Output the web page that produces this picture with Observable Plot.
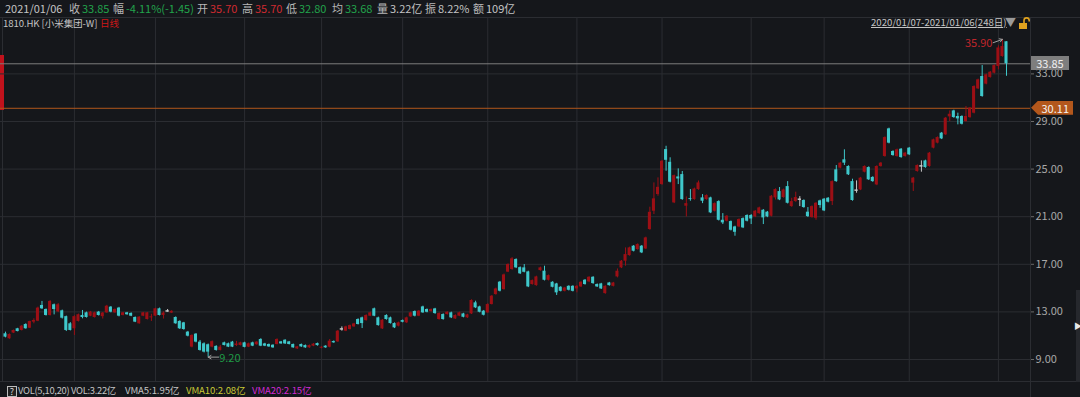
<!DOCTYPE html>
<html><head><meta charset="utf-8">
<script src="https://cdn.jsdelivr.net/npm/d3@7"></script>
<script src="https://cdn.jsdelivr.net/npm/@observablehq/plot@0.6"></script>
<style>
html,body{margin:0;padding:0;background:#15171b;width:1080px;height:397px;overflow:hidden;font-family:"Noto Sans CJK SC","Noto Sans",sans-serif;}
#wrap{position:relative;width:1080px;height:397px;}
#wrap svg{position:absolute;left:0;top:0;}
.abs{position:absolute;white-space:nowrap;line-height:1;}
.ln{position:absolute;background:#2b2d32;}
</style></head><body><div id="wrap"></div>
<script>
// ---- data ----
const open = [
11.16,10.74,11.22,11.58,11.44,11.94,11.63,12.14,12.22,13.54,
13.20,12.70,13.60,13.00,13.09,12.60,12.00,11.58,12.20,12.70,
12.92,12.64,12.53,12.98,12.60,12.92,13.40,12.92,13.32,12.70,
12.92,12.87,12.53,12.00,12.64,12.36,12.50,12.64,13.26,12.70,
13.08,12.90,12.53,12.20,12.08,11.30,10.04,11.13,10.46,10.32,
10.24,10.04,10.10,9.76,10.40,10.32,10.46,10.18,10.18,10.40,
10.04,10.40,10.24,10.68,10.31,10.26,10.20,10.26,10.48,10.62,
10.48,10.26,9.89,10.26,10.17,9.98,10.12,10.34,9.95,10.12,
10.03,10.51,10.48,11.57,11.38,11.52,11.74,12.36,12.50,12.27,
12.64,13.26,12.50,11.57,12.70,12.50,12.02,11.80,12.27,12.08,
12.58,13.03,12.64,13.42,13.20,13.03,13.25,12.36,12.78,12.78,
12.92,12.41,12.64,12.83,12.50,12.83,13.76,13.42,13.06,12.92,
13.62,14.46,15.50,14.88,16.34,16.56,17.40,16.72,16.70,16.36,
15.30,15.21,16.47,16.42,15.66,15.49,15.35,15.07,14.73,15.15,
15.15,14.93,15.10,15.66,15.52,15.91,15.30,15.35,14.54,15.43,
15.15,15.94,16.70,17.26,17.73,18.52,18.24,18.52,18.29,19.92,
21.46,22.86,23.70,26.64,25.57,22.16,24.34,24.54,21.88,22.52,
22.44,23.28,22.58,22.44,22.58,21.46,22.27,20.70,20.62,20.59,
20.14,20.14,20.84,21.10,21.10,20.98,21.26,21.54,21.38,21.04,
22.58,23.11,22.61,23.53,21.85,22.27,22.47,22.36,21.38,20.93,
20.87,22.33,22.47,22.55,22.27,24.94,25.08,25.78,25.22,23.95,
23.23,23.25,24.74,25.13,24.30,23.67,25.22,26.06,28.38,26.48,
26.06,26.67,26.06,26.76,23.82,24.80,25.27,25.69,25.22,26.76,
27.18,28.02,27.88,29.39,29.89,29.42,29.42,29.00,29.33,29.70,
31.74,32.78,32.14,32.70,33.06,33.62,34.46,35.70];
const high = [
11.30,11.15,11.48,11.62,11.85,12.00,12.22,12.42,13.40,13.88,
13.25,13.95,13.66,13.70,13.15,12.65,12.10,12.68,12.82,13.12,
12.98,13.04,12.98,13.04,12.95,13.55,13.45,13.25,13.38,12.96,
12.96,12.92,12.58,12.60,12.96,12.96,12.80,13.30,13.32,13.00,
13.20,13.10,12.58,12.25,12.12,11.36,11.08,11.18,10.60,10.40,
10.30,10.56,10.16,10.18,10.46,10.38,10.52,10.52,10.45,10.45,
10.38,10.46,10.50,10.75,10.36,10.30,10.24,10.74,10.52,10.66,
10.52,10.30,10.10,10.30,10.22,10.22,10.34,10.38,10.08,10.16,
10.68,10.56,11.44,11.74,11.80,11.90,12.04,12.42,12.56,12.76,
12.98,13.32,12.56,12.36,12.76,12.56,12.08,12.14,12.32,12.56,
12.98,13.08,13.12,13.48,13.25,13.25,13.30,12.92,12.84,13.02,
12.98,12.76,12.98,12.88,12.80,14.02,13.90,13.48,13.12,13.68,
14.38,15.00,15.56,16.18,17.04,17.56,17.46,16.78,16.98,16.42,
15.68,16.00,16.76,16.84,16.10,15.54,15.40,15.12,15.06,15.20,
15.20,15.21,15.54,15.72,15.96,15.96,15.35,15.40,15.20,15.48,
15.48,16.61,17.32,18.38,18.44,18.58,18.72,18.58,19.28,21.80,
23.84,24.26,25.72,26.92,25.95,24.50,25.02,24.80,22.66,23.28,
23.40,24.00,22.86,22.84,22.64,22.16,22.34,21.26,21.10,20.64,
20.20,20.82,20.90,21.16,21.18,21.52,21.80,21.60,21.44,22.78,
23.34,23.45,23.32,23.95,22.55,23.06,22.69,22.42,21.77,21.91,
22.19,22.39,22.53,22.61,24.01,25.30,25.56,26.62,25.28,24.15,
24.01,24.30,25.28,25.19,24.36,25.28,25.56,27.71,28.44,26.54,
26.68,26.73,26.40,26.82,24.30,25.36,25.69,25.75,26.40,27.52,
27.71,28.08,29.34,29.89,29.95,29.70,29.48,30.26,30.18,32.00,
32.56,33.70,32.98,33.20,33.76,35.36,35.90,35.70];
const low = [
10.82,10.70,11.18,11.32,11.40,11.55,11.60,12.00,12.18,13.20,
12.65,12.65,12.75,12.95,12.40,11.35,11.40,11.02,12.15,12.42,
12.48,12.60,12.48,12.65,12.40,12.88,12.92,12.88,12.58,12.66,
12.72,12.60,12.10,11.96,12.60,12.32,12.20,12.60,12.66,12.40,
12.98,12.86,11.96,11.52,11.46,10.90,9.98,10.40,9.70,9.55,
9.20,9.98,9.70,9.72,10.14,10.00,10.00,10.10,10.14,9.98,
10.00,10.08,10.20,10.08,10.08,10.02,9.94,10.22,10.28,10.26,
10.22,9.94,9.84,10.02,9.94,9.94,10.08,10.12,9.90,9.94,
9.98,10.36,10.44,11.38,11.34,11.48,11.70,11.90,11.60,12.22,
12.60,12.60,11.80,11.52,12.30,11.98,11.60,11.74,12.08,12.02,
12.54,12.58,12.60,12.88,12.92,12.98,12.80,12.30,12.30,12.72,
12.44,12.36,12.60,12.50,12.45,12.78,13.28,12.92,12.66,12.88,
13.58,14.40,14.68,14.82,16.30,16.50,16.64,16.14,16.28,15.04,
15.25,15.15,16.42,15.60,15.60,15.02,14.38,14.68,14.68,14.76,
14.68,14.60,15.05,15.25,15.46,15.32,15.05,14.88,14.48,15.16,
15.10,15.86,16.64,16.84,17.68,18.04,18.18,17.90,18.24,19.86,
21.18,22.72,23.64,24.82,23.84,22.10,23.70,22.38,20.98,22.30,
22.38,23.22,22.10,22.38,21.26,21.40,20.64,20.34,20.56,19.80,
19.36,20.08,20.00,20.56,20.34,20.92,21.20,20.34,20.92,20.98,
22.40,22.35,22.55,22.07,21.79,22.21,21.85,21.71,20.93,20.87,
20.70,21.71,21.43,22.16,21.94,23.89,25.02,25.30,24.46,22.30,
22.97,23.19,24.68,24.04,23.89,23.61,25.16,26.00,27.12,26.08,
26.00,25.91,26.00,26.14,23.12,24.74,24.74,25.07,25.16,26.70,
27.12,27.48,27.82,29.00,29.27,28.72,28.71,28.94,29.27,29.64,
31.68,31.04,32.08,32.64,33.00,33.34,34.40,32.80];
const close = [
10.88,11.10,11.44,11.35,11.80,11.58,12.19,12.28,13.32,13.26,
12.70,13.88,13.20,13.60,12.47,11.44,11.44,12.60,12.76,12.53,
12.53,12.98,12.92,12.70,12.90,13.48,12.98,13.20,12.64,12.92,
12.76,12.64,12.14,12.56,12.92,12.92,12.58,13.26,12.70,12.90,
13.08,13.05,12.00,11.58,11.52,10.96,11.02,10.46,9.76,9.62,
9.62,10.50,9.76,10.04,10.18,10.04,10.04,10.30,10.40,10.02,
10.32,10.12,10.46,10.12,10.12,10.06,9.98,10.68,10.31,10.31,
10.26,9.98,10.06,10.06,9.98,10.17,10.29,10.17,10.03,9.98,
10.54,10.40,11.38,11.57,11.74,11.85,11.99,11.94,12.02,12.70,
12.92,12.64,11.85,12.30,12.36,12.02,11.66,12.08,12.13,12.50,
12.92,12.64,13.06,12.92,12.97,13.20,12.86,12.86,12.36,12.97,
12.50,12.70,12.92,12.55,12.75,13.96,13.34,12.97,12.72,13.62,
14.32,14.93,14.74,16.11,16.98,17.46,16.70,16.20,16.33,15.10,
15.63,15.94,16.70,15.66,16.05,15.07,14.60,14.73,15.01,14.82,
14.73,15.15,15.49,15.30,15.91,15.38,15.10,14.93,15.15,15.21,
15.43,16.42,17.26,17.82,18.38,18.10,18.66,17.96,19.22,21.37,
22.50,23.47,25.66,25.74,23.90,24.45,24.17,22.44,22.10,22.44,
23.33,23.84,22.30,22.78,21.32,22.10,20.70,20.48,21.04,19.86,
19.69,20.76,20.06,20.62,20.81,21.46,21.74,20.90,20.98,22.72,
23.28,22.41,23.25,22.13,22.27,22.61,22.47,21.77,21.01,21.85,
22.13,21.94,21.49,22.22,23.95,23.95,25.50,25.50,24.52,22.36,
23.23,24.24,25.22,24.10,23.95,25.22,25.50,27.65,27.18,26.14,
26.62,25.97,26.34,26.20,24.24,25.30,25.27,25.13,26.34,27.46,
27.65,27.54,29.28,29.61,29.33,29.22,28.77,29.42,30.12,31.94,
32.50,31.10,32.92,33.14,33.70,35.18,35.30,33.85];
const yTicks = [9, 13, 17, 21, 25, 29, 33];
const monthStartIdx = [17, 37, 59, 78, 98, 119, 141, 162, 184, 202, 223, 245];
const lastPrice = 33.85;
const refPrice = 30.11;
const maxMark = {i: 246, v: 35.90};
const minMark = {i: 50, v: 9.20};
const headDate = "2021/01/06";
const headLabels = ["收","幅","开","高","低","均","量","振","额"];
const headValues = ["33.85","-4.11%(-1.45)","35.70","35.70","32.80","33.68","3.22亿","8.22%","109亿"];
const headTone = ["dn","dn","up","up","dn","dn","n","n","n"];
const symbolText = "1810.HK [小米集团-W]";
const periodText = "日线";
const rangeText = "2020/01/07-2021/01/06(248日)";
const volTexts = ["VOL(5,10,20) VOL:3.22亿","VMA5:1.95亿","VMA10:2.08亿","VMA20:2.15亿"];

// ---- chart ----
const UP = "#9c0f15", DN = "#3fc8cb", EQ = "#c8c8c8";
const candles = open.map((o, i) => ({i, open: o, high: high[i], low: low[i], close: close[i], dir: Math.sign(+(close[i] - o).toFixed(4))}));
const col = d => d.dir > 0 ? UP : d.dir < 0 ? DN : EQ;
const FONT = '"Noto Sans CJK SC","Noto Sans",sans-serif';

const chart = Plot.plot({
  width: 1080, height: 397,
  marginTop: 17, marginBottom: 16, marginLeft: 0, marginRight: 50,
  style: {background: "transparent", fontFamily: FONT, fontSize: "11px", color: "#a8a8a8", overflow: "visible"},
  x: {domain: [0, 247], range: [5, 1006], axis: null},
  y: {domain: [9, 33], range: [359, 73.4], axis: null},
  color: {type: "identity"},
  marks: [
    Plot.ruleY(yTicks, {stroke: "#2b2d32"}),
    Plot.ruleX(monthStartIdx, {stroke: "#2b2d32"}),
    Plot.ruleY([lastPrice], {stroke: "#7c7c7c"}),
    Plot.ruleY([refPrice], {stroke: "#b1561c"}),
    Plot.ruleX(candles, {x: "i", y1: "low", y2: "high", stroke: col, strokeWidth: 1}),
    Plot.rect(candles.filter(d => d.dir !== 0), {x1: d => d.i - 0.5, x2: d => d.i + 0.5, y1: "open", y2: "close", insetLeft: 0.5, insetRight: 0.5, fill: col}),
    Plot.ruleY(candles.filter(d => d.dir === 0), {x1: d => d.i - 0.4, x2: d => d.i + 0.4, y: "open", stroke: EQ, strokeWidth: 1.5}),
    Plot.axisY(yTicks, {anchor: "right", tickSize: 3, tickPadding: 2, tickFormat: d => d.toFixed(2), stroke: "#6a6a6a", fill: "#a8a8a8", fontSize: 11, label: null}),
    Plot.text([maxMark], {x: "i", y: "v", text: d => d.v.toFixed(2), textAnchor: "end", dx: -10, dy: 4, fill: "#c0262c", fontSize: 11}),
    Plot.arrow([maxMark], {x1: d => d.i - 2.3, y1: d => d.v - 0.28, x2: "i", y2: "v", stroke: "#a0a0a0", strokeWidth: 1, headLength: 5, insetEnd: 0}),
    Plot.text([minMark], {x: "i", y: "v", text: d => d.v.toFixed(2), textAnchor: "start", dx: 11, dy: 1, fill: "#1f9a46", fontSize: 11}),
    Plot.arrow([minMark], {x1: d => d.i + 2.6, y1: "v", x2: "i", y2: "v", stroke: "#a0a0a0", strokeWidth: 1, headLength: 5, insetEnd: 0})
  ]
});
const wrap = document.getElementById("wrap");

function line(l, t, w, h, c) {
  const d = document.createElement("div"); d.className = "ln";
  Object.assign(d.style, {left: l + "px", top: t + "px", width: w + "px", height: h + "px"});
  if (c) d.style.background = c;
  wrap.appendChild(d); return d;
}
line(0, 17, 1080, 1);
line(0, 381, 1080, 1);
line(2, 17, 1, 364);
line(1030, 17, 1, 380);
line(1076, 290, 4, 92, "#26282d");
line(0, 55, 4, 55, "#c0121c");
wrap.appendChild(chart);

function txt(s, l, t, c, size, extra) {
  const d = document.createElement("div"); d.className = "abs";
  d.textContent = s;
  Object.assign(d.style, {left: l + "px", top: t + "px", color: c, fontSize: (size || 11) + "px"}, extra || {});
  wrap.appendChild(d); return d;
}
const GREEN = "#22a34b", RED = "#cf2a30", GREY = "#c4c4c4", LAB = "#b8b8b8";
txt(headDate, 5, 3, GREY, 11);
const headLeft = [69, 113, 197, 242, 286, 332, 377, 425, 473];
headLabels.forEach((lab, k) => {
  const d = txt("", headLeft[k], 3, LAB, 11);
  const a = document.createElement("span"); a.textContent = lab;
  const b = document.createElement("span"); b.textContent = headValues[k];
  b.style.marginLeft = "2px";
  b.style.color = headTone[k] === "up" ? RED : headTone[k] === "dn" ? GREEN : GREY;
  d.appendChild(a); d.appendChild(b);
});
txt(symbolText, 3, 19, GREY, 9.6, {letterSpacing: "-0.1px"});
txt(periodText, 100, 19, "#d01818", 9.6);
txt(rangeText, 871, 18, GREY, 9.6, {textDecoration: "underline"});
txt("▼", 1005, 17, "#9a9a9a", 11);
// lock icon
const lock = document.createElementNS("http://www.w3.org/2000/svg", "svg");
lock.setAttribute("width", "14"); lock.setAttribute("height", "14");
lock.style.position = "absolute"; lock.style.left = "1018px"; lock.style.top = "16px";
lock.innerHTML = '<path d="M6 7 V4.5 a2.6 2.6 0 0 1 5.2 0 V5.5" fill="none" stroke="#e0a21e" stroke-width="1.6"/><rect x="1" y="7" width="8" height="6" fill="#e0a21e"/>';
wrap.appendChild(lock);

// price tags on the right axis
const ys = chart.scale("y");
const yLast = ys.apply(lastPrice), yRef = ys.apply(refPrice);
txt(lastPrice.toFixed(2), 1031, yLast - 7, "#f0f0f0", 11, {background: "#7e7e7e", width: "38px", height: "14px", lineHeight: "14px", textAlign: "center"});
txt(refPrice.toFixed(2), 1031, yRef - 7, "#f4f4f4", 11, {background: "#b3571c", width: "42px", height: "14px", lineHeight: "14px", textAlign: "right", boxSizing: "border-box", paddingRight: "4px", clipPath: "polygon(0 50%, 7px 0, 100% 0, 100% 100%, 7px 100%)"});
txt("▶", 1074, 322, "#e8e8e8", 8);

// bottom volume bar
txt("?", 7, 386, "#dcdcdc", 9, {border: "1px solid #bdbdbd", width: "8px", height: "9px", lineHeight: "9px", textAlign: "center", background: "#222"});
txt(volTexts[0], 18, 386, GREY, 9.4, {letterSpacing: "-0.3px"});
txt(volTexts[1], 125, 386, GREY, 9.6, {letterSpacing: "-0.1px"});
txt(volTexts[2], 186, 386, "#c9c935", 9.6, {letterSpacing: "-0.1px"});
txt(volTexts[3], 252, 386, "#d22ad2", 9.6, {letterSpacing: "-0.1px"});
</script></body></html>
